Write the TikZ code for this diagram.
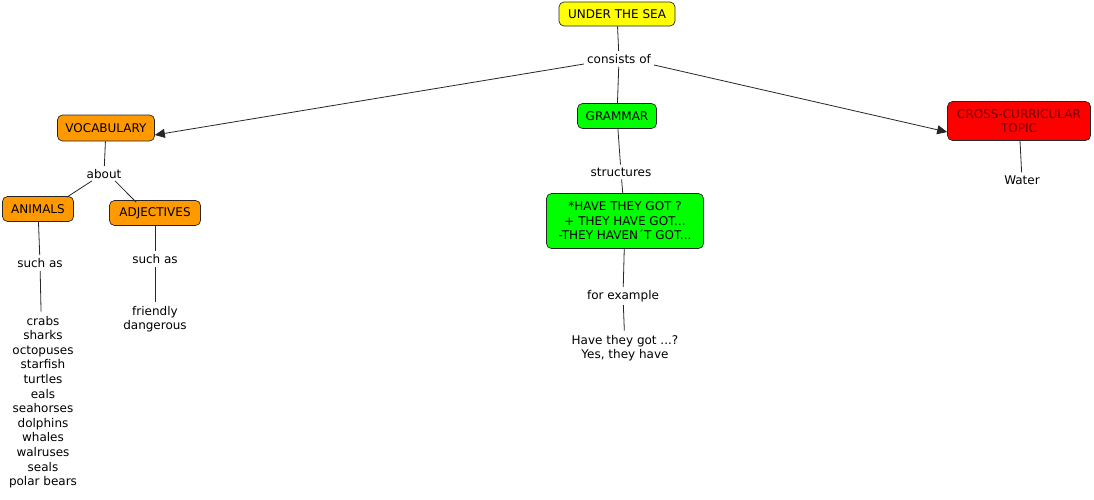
\documentclass[tikz,border=0pt]{standalone}
\usepackage{fontspec}
\setmainfont{DejaVu Sans}
\usetikzlibrary{arrows.meta}
\begin{document}
\begin{tikzpicture}[x=1pt,y=-1pt,
  every node/.style={font=\fontsize{12}{14.6}\selectfont, align=center, inner sep=1pt},
  concept/.style={draw=black!85, rounded corners=5pt, line width=0.7pt, inner sep=0pt},
  lbl/.style={fill=white, inner sep=3pt},
  link/.style={draw=black!85, line width=0.8pt},
  arr/.style={link, -{Triangle[length=10pt,width=9pt]}}]
\path[use as bounding box, fill=white] (0,0) rectangle (1094,499);

\definecolor{cyellow}{RGB}{255,255,0}
\definecolor{cgreen}{RGB}{0,255,0}
\definecolor{corange}{RGB}{255,153,0}
\definecolor{cred}{RGB}{255,0,0}
\definecolor{cmaroon}{RGB}{110,0,0}

\node[concept, fill=cyellow, minimum width=116pt, minimum height=24pt] (sea) at (617,14) {UNDER THE SEA};
\node[lbl] (cons) at (619,59) {consists of};
\node[concept, fill=cgreen, minimum width=79pt, minimum height=25pt] (gram) at (617,116) {GRAMMAR};
\node[concept, fill=corange, minimum width=97pt, minimum height=26pt] (voc) at (106,128) {VOCABULARY};
\node[concept, fill=cred, minimum width=143pt, minimum height=39pt, text=cmaroon] (cross) at (1019,121) {CROSS-CURRICULAR\\TOPIC};
\node[lbl] (about) at (104,174) {about};
\node[concept, fill=corange, minimum width=71pt, minimum height=25pt] (anim) at (38,209) {ANIMALS};
\node[concept, fill=corange, minimum width=91pt, minimum height=25pt] (adj) at (155,213) {ADJECTIVES};
\node[lbl] (such1) at (40,263) {such as};
\node[lbl] (such2) at (155,259) {such as};
\node[inner sep=4pt] (fd) at (155,319) {friendly\\dangerous};
\node[inner sep=4pt] (list) at (43,402) {crabs\\sharks\\octopuses\\starfish\\turtles\\eals\\seahorses\\dolphins\\whales\\walruses\\seals\\polar bears};
\node[lbl] (struct) at (621,172) {structures};
\node[concept, fill=cgreen, minimum width=157pt, minimum height=55pt] (have) at (625,221) {*HAVE THEY GOT ?\\+ THEY HAVE GOT...\\-THEY HAVEN´T GOT...};
\node[lbl] (forex) at (623,296) {for example};
\node[inner sep=4pt] (ex) at (625,348) {Have they got ...?\\Yes, they have};
\node[lbl] (water) at (1022,180) {Water};

\draw[link] (sea) -- (cons);
\draw[arr] ([yshift=-5pt]cons.west) -- ([yshift=-7pt]voc.east);
\draw[link] (cons) -- (gram);
\draw[arr] ([yshift=-6pt]cons.east) -- ([yshift=-11pt]cross.west);
\draw[link] (voc) -- (about);
\draw[link] ([xshift=-12pt,yshift=1pt]about.south) -- ([xshift=-7pt,yshift=-1pt]anim.north east);
\draw[link] ([xshift=11pt,yshift=1pt]about.south) -- ([xshift=27pt,yshift=-2pt]adj.north west);
\draw[link] (anim) -- (such1);
\draw[link] (such1) -- (list);
\draw[link] (adj) -- (such2);
\draw[link] (such2) -- (fd);
\draw[link] (gram) -- (struct);
\draw[link] (struct) -- (have);
\draw[link] (have) -- (forex);
\draw[link] (forex) -- (ex);
\draw[link] (cross) -- (water);
\end{tikzpicture}
\end{document}
